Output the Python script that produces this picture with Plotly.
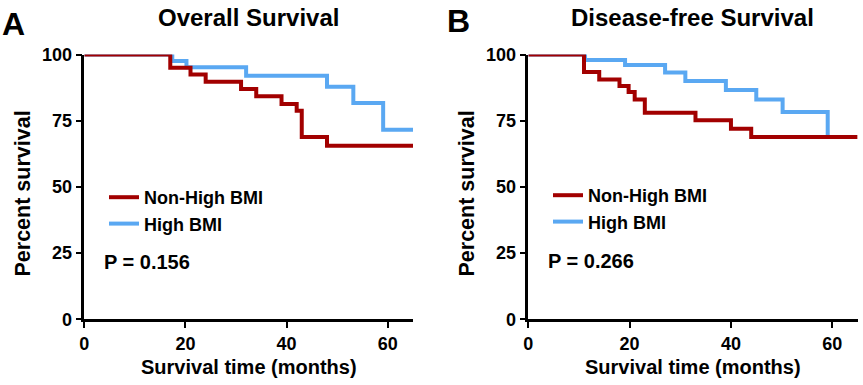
import plotly.graph_objects as go

# ---------------- data ----------------
os_time_nonhigh = [0, 17, 21, 24, 31, 34, 39, 42, 43, 48, 65]
os_surv_nonhigh = [100, 95.0, 92.4, 89.7, 87.0, 84.2, 81.3, 78.8, 68.8, 65.5, 65.5]
os_time_high = [0, 17.4, 20.2, 32, 48, 53.2, 59.1, 65]
os_surv_high = [100, 97.5, 95.2, 92.0, 87.8, 81.7, 71.6, 71.6]

dfs_time_nonhigh = [0, 11, 14, 18, 19.8, 21, 23, 33, 40, 44, 65]
dfs_surv_nonhigh = [100, 93.4, 90.6, 88.1, 85.8, 83.0, 78.0, 75.2, 72.0, 68.8, 68.8]
dfs_time_high = [0, 11.2, 19.1, 27, 31, 39, 45, 50.2, 59.1]
dfs_surv_high = [100, 97.9, 96.0, 93.2, 90.0, 86.6, 83.0, 78.3, 68.6]

group_names = ["Non-High BMI", "High BMI"]
panel_titles = ["Overall Survival", "Disease-free Survival"]
panel_letters = ["A", "B"]
p_values = ["P = 0.156", "P = 0.266"]
x_ticks = [0, 20, 40, 60]
y_ticks = [0, 25, 50, 75, 100]
x_title = "Survival time (months)"
y_title = "Percent survival"

# ---------------- styling ----------------
W, H = 863, 385
FONT = "Liberation Sans, Arial, sans-serif"
RED = "#A20000"
BLUE = "#5AA8F2"
LW = 4


def px(x):
    return x / W


def py(y):
    return 1 - y / H


fig = go.Figure()

panels = [
    dict(xa="x", ya="y", leg="legend",
         red=(os_time_nonhigh, os_surv_nonhigh), blue=(os_time_high, os_surv_high)),
    dict(xa="x2", ya="y2", leg="legend2",
         red=(dfs_time_nonhigh, dfs_surv_nonhigh), blue=(dfs_time_high, dfs_surv_high)),
]

for p in panels:
    fig.add_trace(go.Scatter(
        x=p["blue"][0], y=p["blue"][1], mode="lines", line_shape="hv",
        line=dict(color=BLUE, width=LW), name=group_names[1],
        xaxis=p["xa"], yaxis=p["ya"], legend=p["leg"], legendrank=2,
        hoverinfo="skip"))
    fig.add_trace(go.Scatter(
        x=p["red"][0], y=p["red"][1], mode="lines", line_shape="hv",
        line=dict(color=RED, width=LW), name=group_names[0],
        xaxis=p["xa"], yaxis=p["ya"], legend=p["leg"], legendrank=1,
        hoverinfo="skip"))

axis_common = dict(
    showline=True, linecolor="black", linewidth=2.5,
    ticks="outside", ticklen=6, tickwidth=2.2, tickcolor="black",
    showgrid=False, zeroline=False, automargin=False,
    tickfont=dict(family=FONT, size=18, color="black", weight="bold"),
    fixedrange=True,
)

y_dom = [py(319.3), py(54.5)]
xA = [84.3, 413.0]
xB = [528.3, 857.6]

fig.update_layout(
    width=W, height=H, autosize=False,
    margin=dict(l=0, r=0, t=0, b=0, pad=0, autoexpand=False),
    paper_bgcolor="white", plot_bgcolor="white",
    showlegend=True,
    xaxis=dict(domain=[px(xA[0]), px(xA[1])], range=[0, 65], tickvals=x_ticks,
               anchor="y", **axis_common),
    yaxis=dict(domain=y_dom, range=[0, 100], tickvals=y_ticks, anchor="x",
               **axis_common),
    xaxis2=dict(domain=[px(xB[0]), px(xB[1])], range=[0, 65], tickvals=x_ticks,
                anchor="y2", **axis_common),
    yaxis2=dict(domain=y_dom, range=[0, 100], tickvals=y_ticks, anchor="x2",
                **axis_common),
    legend=dict(x=px(104), y=py(179), xanchor="left", yanchor="top",
                bgcolor="rgba(0,0,0,0)", borderwidth=0,
                font=dict(family=FONT, size=18, color="black", weight="bold")),
    legend2=dict(x=px(548), y=py(177), xanchor="left", yanchor="top",
                 bgcolor="rgba(0,0,0,0)", borderwidth=0,
                 font=dict(family=FONT, size=18, color="black", weight="bold")),
)

ann = []
# panel letters
ann.append(dict(text=panel_letters[0], x=px(0), y=py(24), xanchor="left", yanchor="middle",
                font=dict(family=FONT, size=32, weight="bold", color="black")))
ann.append(dict(text=panel_letters[1], x=px(445), y=py(21), xanchor="left", yanchor="middle",
                font=dict(family=FONT, size=32, weight="bold", color="black")))
# titles
ann.append(dict(text=panel_titles[0], x=px(248.5), y=py(17), xanchor="center", yanchor="middle",
                font=dict(family=FONT, size=24, weight="bold", color="black")))
ann.append(dict(text=panel_titles[1], x=px(692.5), y=py(17), xanchor="center", yanchor="middle",
                font=dict(family=FONT, size=24, weight="bold", color="black")))
# x axis titles
ann.append(dict(text=x_title, x=px(249), y=py(367), xanchor="center", yanchor="middle",
                font=dict(family=FONT, size=20, weight="bold", color="black")))
ann.append(dict(text=x_title, x=px(693), y=py(367), xanchor="center", yanchor="middle",
                font=dict(family=FONT, size=20, weight="bold", color="black")))
# y axis titles
ann.append(dict(text=y_title, x=px(22.5), y=py(194), xanchor="center", yanchor="middle",
                textangle=-90,
                font=dict(family=FONT, size=21.5, weight="bold", color="black")))
ann.append(dict(text=y_title, x=px(466.5), y=py(194), xanchor="center", yanchor="middle",
                textangle=-90,
                font=dict(family=FONT, size=21.5, weight="bold", color="black")))
# p values
ann.append(dict(text=p_values[0], x=px(102), y=py(262), xanchor="left", yanchor="middle",
                font=dict(family=FONT, size=20, weight="bold", color="black")))
ann.append(dict(text=p_values[1], x=px(546), y=py(260.5), xanchor="left", yanchor="middle",
                font=dict(family=FONT, size=20, weight="bold", color="black")))

for a in ann:
    a.update(xref="paper", yref="paper", showarrow=False)
fig.update_layout(annotations=ann)

# remove the browser's default 8px page margin so the figure sits at (0, 0)
fig.write_html("out.html", config={"displayModeBar": False},
               post_script="document.body.style.margin='0';")
